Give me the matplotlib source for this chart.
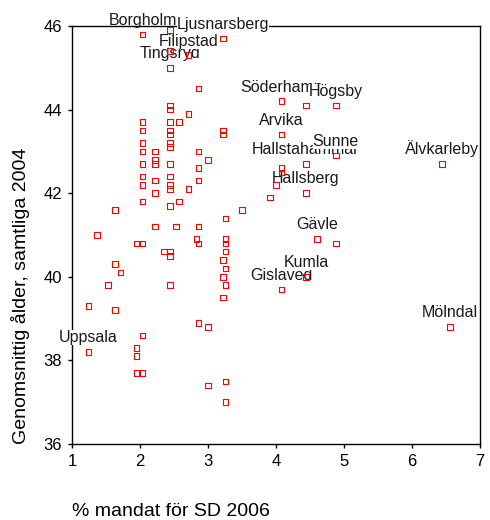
import matplotlib
matplotlib.use('Agg')
import matplotlib.pyplot as plt

plt.rcParams['font.family'] = ['Liberation Sans', 'DejaVu Sans']

# % mandat för SD 2006 och genomsnittlig ålder 2004, en punkt per kommun
sd_share = [
    1.24, 1.24, 1.37, 1.53, 1.63, 1.63, 1.63, 1.71,
    1.95, 1.95, 1.95, 1.95,
    2.04, 2.04, 2.04, 2.04, 2.04, 2.04, 2.04, 2.04, 2.04, 2.04, 2.04, 2.04,
    2.22, 2.22, 2.22, 2.22, 2.22, 2.22, 2.35,
    2.44, 2.44, 2.44, 2.44, 2.44, 2.44, 2.44, 2.44, 2.44,
    2.44, 2.44, 2.44, 2.44, 2.44, 2.44, 2.44, 2.44, 2.44,
    2.53, 2.57, 2.57, 2.71, 2.71, 2.71, 2.83,
    2.86, 2.86, 2.86, 2.86, 2.86, 2.86, 2.86,
    3.0, 3.0, 3.0,
    3.22, 3.22, 3.22, 3.22, 3.22, 3.22,
    3.26, 3.26, 3.26, 3.26, 3.26, 3.26, 3.26, 3.26,
    3.5, 3.91, 4.0,
    4.08, 4.08, 4.08, 4.08, 4.08,
    4.44, 4.44, 4.44, 4.44,
    4.6, 4.88, 4.88, 4.88, 6.44, 6.56,
]
mean_age = [
    39.3, 38.2, 41.0, 39.8, 41.6, 40.3, 39.2, 40.1,
    40.8, 38.3, 38.1, 37.7,
    45.8, 43.7, 43.5, 43.2, 43.0, 42.7, 42.4, 42.2, 41.8, 40.8, 38.6, 37.7,
    43.0, 42.8, 42.7, 42.3, 42.0, 41.2, 40.6,
    45.9, 45.4, 45.0, 44.1, 44.0, 43.7, 43.5, 43.4, 43.2,
    43.1, 42.7, 42.4, 42.2, 42.1, 41.7, 40.6, 40.5, 39.8,
    41.2, 43.7, 41.8, 45.3, 43.9, 42.1, 40.9,
    44.5, 43.0, 42.6, 42.3, 41.2, 40.8, 38.9,
    42.8, 38.8, 37.4,
    45.7, 43.5, 43.4, 40.4, 40.0, 39.5,
    41.4, 40.9, 40.8, 40.6, 40.2, 39.8, 37.5, 37.0,
    41.6, 41.9, 42.2,
    44.2, 43.4, 42.6, 42.5, 39.7,
    44.1, 42.7, 42.0, 40.0,
    40.9, 44.1, 42.9, 40.8, 42.7, 38.8,
]
names = [
    '', 'Uppsala', '', '', '', '', '', '',
    '', '', '', '',
    'Borgholm', '', '', '', '', '', '', '', '', '', '', '',
    '', '', '', '', '', '', '',
    '', '', 'Tingsryd', '', '', '', '', '', '',
    '', '', '', '', '', '', '', '', '',
    '', '', '', 'Filipstad', '', '', '',
    '', '', '', '', '', '', '',
    '', '', '',
    'Ljusnarsberg', '', '', '', '', '',
    '', '', '', '', '', '', '', '',
    '', '', '',
    'Söderhamn', 'Arvika', '', '', 'Gislaved',
    '', 'Hallstahammar', 'Hallsberg', 'Kumla',
    'Gävle', 'Högsby', 'Sunne', '', 'Älvkarleby', 'Mölndal',
]

fig = plt.figure(figsize=(4.9, 5.2), dpi=100)
ax = fig.add_axes([72 / 490, 1 - 444 / 520, 408 / 490, 418 / 520])

ax.scatter(sd_share, mean_age, marker='s', s=16, facecolors='none',
           edgecolors='red', linewidths=0.8, zorder=4, clip_on=False)

for x, y, name in zip(sd_share, mean_age, names):
    if not name:
        continue
    # Borgholm sits above the frame line without hiding it
    box = None if name == 'Borgholm' else dict(boxstyle='square,pad=0', fc='white', ec='none')
    ax.annotate(name, (x, y), xytext=(0, 7), textcoords='offset points',
                ha='center', va='baseline', fontsize=11.5, color='#1a1a1a',
                zorder=3, annotation_clip=False, bbox=box)

ax.set_xlim(1, 7)
ax.set_ylim(36, 46)
ax.set_xticks(range(1, 8))
ax.set_yticks(range(36, 47, 2))
ax.tick_params(direction='out', length=3, width=1, labelsize=12, pad=4)
for sp in ax.spines.values():
    sp.set_linewidth(1.0)

ax.set_xlabel('% mandat för SD 2006', fontsize=14, loc='left', labelpad=25)
ax.set_ylabel('Genomsnittig ålder, samtliga 2004', fontsize=14, loc='bottom',
              labelpad=10)

fig.savefig('out.png', dpi=100)
